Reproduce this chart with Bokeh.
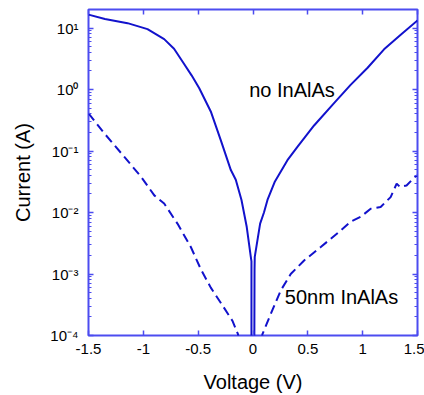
from bokeh.plotting import figure
from bokeh.models import Range1d, LogAxis, LinearAxis, FixedTicker, Label
from bokeh.embed import file_html
from bokeh.resources import INLINE

# ---- data ----
v_no = [-1.5, -1.35, -1.144, -0.962, -0.81, -0.72, -0.643, -0.56, -0.49, -0.385,
        -0.294, -0.202, -0.157, -0.105, -0.057, -0.02, -0.014, -0.014,
        0.012, 0.014, 0.016, 0.065, 0.1, 0.132, 0.2, 0.314, 0.405, 0.557,
        0.739, 0.89, 1.043, 1.195, 1.347, 1.5]
i_no = [16.5, 14.0, 12.0, 9.6, 6.6, 4.6, 2.85, 1.7, 1.05, 0.44,
        0.15, 0.049, 0.034, 0.016, 0.0058, 0.0019, 0.0016, 5e-5,
        5e-5, 0.0012, 0.0019, 0.0066, 0.01, 0.016, 0.032, 0.071, 0.117, 0.26,
        0.6, 1.19, 2.24, 4.5, 7.8, 13.3]

v_50 = [-1.5, -1.357, -1.175, -1.02, -0.9, -0.81, -0.689, -0.567, -0.476, -0.385,
        -0.279, -0.188, -0.137, -0.13,
        0.08, 0.086, 0.162, 0.253, 0.344, 0.466, 0.618, 0.8, 0.891, 0.982,
        1.073, 1.164, 1.255, 1.31, 1.34, 1.40, 1.477, 1.5]
i_50 = [0.41, 0.195, 0.081, 0.038, 0.019, 0.014, 0.0066, 0.00275, 0.0012, 0.0006,
        0.00031, 0.000174, 0.000105, 0.00009,
        0.00009, 0.000105, 0.000224, 0.00054, 0.001, 0.00166, 0.00275, 0.0051, 0.0071, 0.0085,
        0.0115, 0.0123, 0.0178, 0.0295, 0.026, 0.0275, 0.038, 0.04]

x_ticks = [-1.5, -1.0, -0.5, 0.0, 0.5, 1.0, 1.5]
x_tick_labels = ["-1.5", "-1", "-0.5", "0", "0.5", "1", "1.5"]
y_exponents = [-4, -3, -2, -1, 0, 1]
y_tick_labels = ["10⁻⁴", "10⁻³", "10⁻²", "10⁻¹", "10⁰", "10¹"]

label_no = "no InAlAs"
label_50 = "50nm InAlAs"

FRAME = "#4c4cf0"
LINE = "#1212cc"
FONT = "Liberation Sans"

y_major = [10.0 ** e for e in y_exponents]
y_minor = [k * 10.0 ** e for e in y_exponents for k in range(2, 10) if k * 10.0 ** e <= 20]

p = figure(width=424, height=395, x_range=Range1d(-1.5, 1.5), y_range=Range1d(1e-4, 20),
           y_axis_type="log", output_backend="svg", toolbar_location=None,
           min_border_left=88, min_border_right=7, min_border_top=9, min_border_bottom=60)

p.xgrid.visible = False
p.ygrid.visible = False
p.outline_line_color = FRAME
p.outline_line_width = 2
p.background_fill_color = "white"
p.border_fill_color = "white"

p.line(v_no, i_no, line_color=LINE, line_width=2)
p.line(v_50, i_50, line_color=LINE, line_width=2, line_dash="9 5")

def style_axis(ax, labels=True):
    ax.axis_line_color = None
    ax.major_tick_line_color = FRAME
    ax.minor_tick_line_color = FRAME
    ax.major_tick_line_width = 1.5
    ax.minor_tick_line_width = 1.2
    ax.major_tick_out = 0
    ax.major_tick_in = 5
    ax.minor_tick_out = 0
    ax.minor_tick_in = 3
    if labels:
        ax.major_label_text_font = FONT
        ax.major_label_text_font_size = "15px"
        ax.major_label_text_color = "black"
        ax.axis_label_text_font = FONT
        ax.axis_label_text_font_size = "20px"
        ax.axis_label_text_font_style = "normal"
        ax.axis_label_text_color = "black"
    else:
        ax.major_label_text_font_size = "0px"
        ax.major_label_text_color = None
        ax.major_label_standoff = 0

xt = FixedTicker(ticks=x_ticks, minor_ticks=[])
yt = FixedTicker(ticks=y_major, minor_ticks=y_minor)

xa = p.xaxis[0]
xa.ticker = xt
xa.major_label_overrides = {t: s for t, s in zip(x_ticks, x_tick_labels)}
xa.axis_label = "Voltage (V)"
style_axis(xa)
xa.major_label_standoff = 8
xa.axis_label_standoff = 14

ya = p.yaxis[0]
ya.ticker = yt
ya.major_label_overrides = {t: s for t, s in zip(y_major, y_tick_labels)}
ya.axis_label = "Current (A)"
style_axis(ya)
ya.major_label_standoff = 10
ya.axis_label_standoff = 13

top = LinearAxis(ticker=FixedTicker(ticks=x_ticks, minor_ticks=[]))
style_axis(top, labels=False)
p.add_layout(top, "above")

right = LogAxis(ticker=FixedTicker(ticks=y_major, minor_ticks=y_minor))
style_axis(right, labels=False)
p.add_layout(right, "right")

p.add_layout(Label(x=-0.035, y=1.0, text=label_no, text_font=FONT, text_font_size="20px",
                   text_baseline="middle", text_color="black"))
p.add_layout(Label(x=0.29, y=4.2e-4, text=label_50, text_font=FONT, text_font_size="20px",
                   text_baseline="middle", text_color="black"))

open("out.html", "w").write(file_html(p, INLINE))
